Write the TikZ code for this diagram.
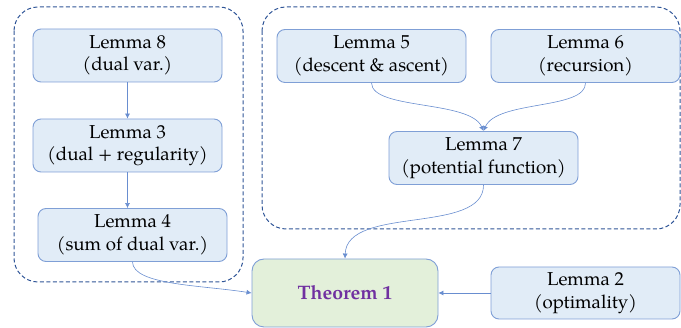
\documentclass[tikz,border=0pt]{standalone}
\usepackage{fontspec}
\setmainfont{TeX Gyre Pagella}
\usetikzlibrary{arrows.meta}
\definecolor{boxfill}{HTML}{E1ECF7}
\definecolor{boxline}{HTML}{7F9FD6}
\definecolor{thfill}{HTML}{E3F0DA}
\definecolor{dashc}{HTML}{2F5597}
\definecolor{arrc}{HTML}{4472C4}
\definecolor{thtext}{HTML}{7030A0}
\begin{document}
\begin{tikzpicture}[x=1pt,y=-1pt,
  lem/.style={draw=boxline, line width=0.9pt, fill=boxfill, rounded corners=8pt,
    minimum width=189pt, minimum height=53pt, align=center, inner sep=0pt,
    font=\fontsize{18.7}{22.5}\selectfont},
  thm/.style={draw=boxline, line width=0.9pt, fill=thfill, rounded corners=12pt,
    minimum width=186pt, minimum height=68pt, align=center, inner sep=0pt,
    font=\fontsize{19.5}{23}\selectfont\bfseries, text=thtext},
  grp/.style={draw=dashc, line width=1pt, dash pattern=on 4pt off 2.5pt, rounded corners=24pt},
  conn/.style={draw=arrc!80, line width=0.6pt, -{Latex[length=5pt,width=5pt]}}
]
\useasboundingbox (0,0) rectangle (681,328);
\draw[grp] (14,7) rectangle (243,282);
\draw[grp] (262,7) rectangle (680,229);

\node[lem] (l8) at (127.5,55.5) {Lemma 8\\(dual var.)};
\node[lem] (l3) at (127.5,145.5) {Lemma 3\\(dual + regularity)};
\node[lem] (l4) at (132.5,235) {Lemma 4\\(sum of dual var.)};
\node[lem] (l5) at (371.5,56) {Lemma 5\\(descent \& ascent)};
\node[lem] (l6) at (585.5,56) {Lemma 6\\(recursion)};
\node[lem] (l7) at (483.5,158) {Lemma 7\\(potential function)};
\node[thm] (th) at (345,293) {Theorem 1};
\node[lem, minimum height=52pt] (l2) at (585.5,293) {Lemma 2\\(optimality)};

\draw[conn] (l8.south) -- (l3.north);
\draw[conn] (l3.south) -- (l3.south |- l4.north);
\draw[conn] (l4.south) .. controls (133,285) and (200,285) .. (th.west);
\draw[conn] (l5.south) .. controls (372,110) and (470,100) .. (l7.north);
\draw[conn] (l6.south) .. controls (586,110) and (497,100) .. (l7.north);
\draw[conn] (l7.south) .. controls (484,235) and (347,205) .. (th.north);
\draw[conn] (l2.west) -- (th.east);
\end{tikzpicture}
\end{document}
